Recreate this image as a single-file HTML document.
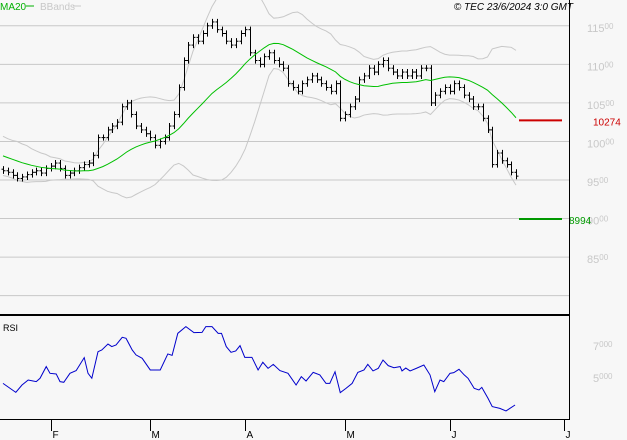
<!DOCTYPE html>
<html><head><meta charset="utf-8">
<style>
html,body{margin:0;padding:0;background:#f7f7f7;}
svg{display:block;font-family:"Liberation Sans",sans-serif;}
</style></head>
<body>
<svg id="chart" width="627" height="440" viewBox="0 0 627 440" xmlns="http://www.w3.org/2000/svg">
<rect x="0" y="0" width="627" height="440" fill="#f7f7f7"/>
<g id="grid"></g>
<g id="bands"></g>
<g id="bars"></g>
<g id="ma"></g>
<g id="rsi"></g>
<g id="axes"></g>
<text x="0" y="10" font-size="10" fill="#00b000">MA20</text>
<line x1="26" y1="6" x2="34" y2="6" stroke="#00b000" stroke-width="1"/>
<text x="40" y="10" font-size="10" fill="#c8c8c8">BBands</text>
<line x1="73" y1="6" x2="81" y2="6" stroke="#c8c8c8" stroke-width="1"/>
<text x="573" y="10" font-size="10" font-style="italic" fill="#000" text-anchor="end">© TEC 23/6/2024 3:0 GMT</text>
<text x="3" y="331" font-size="9" fill="#000">RSI</text>
</svg>
<script>
const closes = [9620,9600,9560,9520,9540,9570,9600,9620,9590,9650,
9680,9720,9650,9560,9590,
9620,9660,9700,9720,9820,10050,
10050,10150,10200,10250,10450,
10500,10350,10200,10150,
10100,10050,9950,10000,10050,
10200,10350,
10700,11050,11250,11350,11300,
11400,11500,11550,11450,11400,
11300,11250,11300,11400,11450,11150,
11050,11000,11100,11150,11050,11000,
10950,10750,10700,10650,10750,10800,10850,
10800,10750,10700,10650,10750,10300,10350,
10450,10550,10800,10850,10950,
10900,11000,11050,10950,10900,
10850,10900,10850,10900,10850,10950,10950,
10500,10600,10650,10700,10650,10750,10700,
10600,10550,10450,10450,10300,10150,
9700,9850,9750,9700,9600,9550];
const priorCloses = [10050,10000,9950,9980,9900,9950,9880,9850,9800,9850,9780,9750,9800,9700,9720,9680,9650,9700,9640];
const rsiDay = [0,2.7,4,5.3,7,7.8,9.1,9.9,11.2,12,12.8,14.1,15.4,17.1,17.9,18.7,20,20.8,22.1,22.9,23.8,25.1,25.9,27.2,28,29.3,31,33.1,34.7,35.6,36.8,38.5,40.2,41.9,42.7,44,45.3,46,47,48,49,49.9,50.9,52.4,53.7,54.7,55.8,56.9,58.3,60,61.7,62.8,63.8,65.3,66.7,68,68.8,69.9,71,72.2,73.5,74.7,76,76.8,77.9,79,80,81.1,82.3,83.6,84,84.8,85.7,87,88.6,89.9,90.9,92,92.8,94.1,94.9,96,97.1,97.9,99.2,100.2,100.8,102.1,103,104.6,105.9,107.8];
const rsiVal = [46,40.4,45,48.1,47.1,49.2,56.5,52.3,51.9,47.1,46.7,52.3,54,62.1,52.3,49.2,65.8,66.9,70.6,69,70,74.8,74.2,66.9,63.8,61.7,54.4,54.4,64.4,63.5,77.3,81.5,77.7,77.9,81.5,81.5,77.3,77.3,69,65.4,66.3,69.6,62.3,62.3,54.4,59.2,55.4,57.9,54,52.3,45,50.2,47.5,52.9,51.3,46,46,53.3,40.2,42.9,46,52.9,54.4,57.9,53.8,55.4,60.6,57.1,55.8,56.5,53.8,55.6,53.8,55.4,57.5,51.3,40.8,48.1,47.1,52.3,52.7,54.8,51.3,49.2,42.9,41.9,43.5,36.7,31.5,30.4,28.8,32.5];
const priceTicks = [8000,8500,9000,9500,10000,10500,11000,11500];
const rsiTicks = [50,70];
const monthLabels = ["F","M","A","M","J","J"];
const monthDays = [10,31,51,72,94,118.2];
const resistance = 10274;
const support = 8994;

const NS="http://www.w3.org/2000/svg";
function el(tag,attrs,parent){const e=document.createElementNS(NS,tag);for(const k in attrs)e.setAttribute(k,attrs[k]);parent.appendChild(e);return e;}
const xDay = d => 3 + d*4.75;
const yP = p => 180 - (p-9500)*0.0771;
const yR = r => 377 - (r-50)*1.6;
const grid=document.getElementById('grid'), axes=document.getElementById('axes');

priceTicks.forEach(p=>{
  if(p!==8000){
    const l=el('line',{x1:0,x2:569,y1:yP(p),y2:yP(p),stroke:'#c8c8c8','stroke-width':1},grid);
    
    
  }
  const t=el('text',{x:587,y:yP(p)+6,'font-size':11,fill:'#c8c8c8'},axes);
  
  
  if(p===8000){t.remove();return;}
  t.textContent=String(p/100);
  const s=el('tspan',{'font-size':8,dy:-3},t); s.textContent='00';
});
el('line',{x1:0,x2:569,y1:yP(8000),y2:yP(8000),stroke:'#c8c8c8'},grid);
rsiTicks.forEach(r=>{
  const t=el('text',{x:593,y:yR(r)+5,'font-size':11,fill:'#c8c8c8'},axes);
  
  
  t.textContent=String(r/10);
  const s=el('tspan',{'font-size':8,dy:-3},t); s.textContent='000';
});

// MA & BBands
const all=priorCloses.concat(closes), off=priorCloses.length;
const ma=[],up=[],lo=[];
for(let i=0;i<closes.length;i++){
  const w=all.slice(i+off-19,i+off+1);
  const m=w.reduce((a,b)=>a+b,0)/w.length;
  const sd=Math.sqrt(w.reduce((a,b)=>a+(b-m)*(b-m),0)/w.length);
  ma.push(m);up.push(m+2*sd);lo.push(m-2*sd);
}
const bandG=document.getElementById('bands');
[up,lo].forEach((arr,k)=>{
  const p=el('polyline',{points:arr.map((v,i)=>xDay(i)+','+yP(v)).join(' '),fill:'none',stroke:'#c8c8c8','stroke-width':1},bandG);
  
  
});
const maL=el('polyline',{points:ma.map((v,i)=>xDay(i)+','+yP(v)).join(' '),fill:'none',stroke:'#00c000','stroke-width':1},document.getElementById('ma'));



// bars
const barG=document.getElementById('bars');
closes.forEach((c,i)=>{
  const o=i?closes[i-1]:priorCloses[priorCloses.length-1];
  const h=Math.max(o,c)+40,l=Math.min(o,c)-40,x=Math.round(xDay(i))+0.5;
  const g=el('g',{stroke:'#000','stroke-width':1},barG);
  
  
  el('line',{x1:x,x2:x,y1:yP(h),y2:yP(l)},g);
  el('line',{x1:x-2,x2:x,y1:yP(o),y2:yP(o)},g);
  el('line',{x1:x,x2:x+2,y1:yP(c),y2:yP(c)},g);
});

// levels
const r1=el('line',{x1:519,x2:562,y1:yP(resistance),y2:yP(resistance),stroke:'#cc0000','stroke-width':2},axes);


const rt=el('text',{x:593,y:yP(resistance)+5,'font-size':10,fill:'#cc0000'},axes);rt.textContent=String(resistance);


const s1=el('line',{x1:519,x2:562,y1:yP(support),y2:yP(support),stroke:'#009900','stroke-width':2},axes);


const st=el('text',{x:569,y:yP(support)+5,'font-size':10,fill:'#009900'},axes);st.textContent=String(support);



// rsi
const rl=el('polyline',{points:rsiDay.map((d,i)=>xDay(d)+','+yR(rsiVal[i])).join(' '),fill:'none',stroke:'#0000cc','stroke-width':1},document.getElementById('rsi'));



// frame
el('line',{x1:569.5,x2:569.5,y1:0,y2:420,stroke:'#000'},axes);
el('line',{x1:0,x2:570,y1:315,y2:315,stroke:'#000','stroke-width':2},axes);
el('line',{x1:0,x2:570,y1:419.5,y2:419.5,stroke:'#000'},axes);
monthDays.forEach((d,i)=>{
  const x=Math.round(xDay(d))+0.5;
  el('line',{x1:x,x2:x,y1:420,y2:431,stroke:'#000'},axes);
  const t=el('text',{x:x+1,y:438,'font-size':10,fill:'#000'},axes);
  t.textContent=monthLabels[i];
  
  
});
</script>
</body></html>
